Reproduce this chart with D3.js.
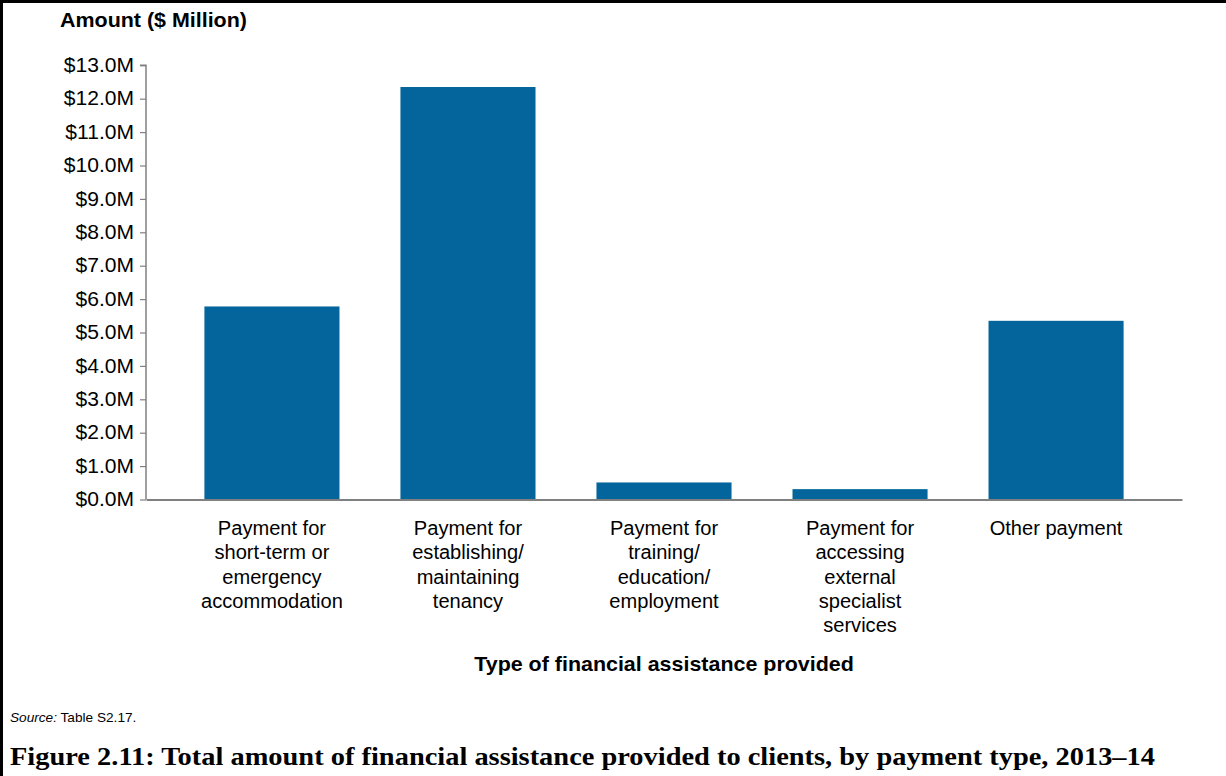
<!DOCTYPE html>
<html>
<head>
<meta charset="utf-8">
<script src="https://cdn.jsdelivr.net/npm/d3@7"></script>
<style>
  html, body { margin: 0; padding: 0; background: #fff; }
  svg { display: block; }
  text { font-family: "Liberation Sans", Arial, sans-serif; fill: #000; }
</style>
</head>
<body>
<svg id="chart" width="1226" height="776"></svg>
<script>
// ---- Data ----
const categories = [
  "Payment for short-term or emergency accommodation",
  "Payment for establishing/ maintaining tenancy",
  "Payment for training/ education/ employment",
  "Payment for accessing external specialist services",
  "Other payment"
];
const categoryLines = [
  ["Payment for", "short-term or", "emergency", "accommodation"],
  ["Payment for", "establishing/", "maintaining", "tenancy"],
  ["Payment for", "training/", "education/", "employment"],
  ["Payment for", "accessing", "external", "specialist", "services"],
  ["Other payment"]
];
const amounts = [5.78, 12.35, 0.51, 0.31, 5.35]; // $ million
const yTicks = [0,1,2,3,4,5,6,7,8,9,10,11,12,13];
const yTitle = "Amount ($ Million)";
const xTitle = "Type of financial assistance provided";
const sourceLabel = "Source:";
const sourceText = " Table S2.17.";
const caption = "Figure 2.11: Total amount of financial assistance provided to clients, by payment type, 2013\u201314";

// ---- Layout ----
const svg = d3.select("#chart");
const plot = { left: 146, right: 1182, top: 65.3, bottom: 499.5 };
const barColor = "#03659b";
const axisColor = "#808080";

// frame
svg.append("path")
  .attr("d", "M1.5,776 L1.5,1.5 L1226,1.5")
  .attr("fill", "none").attr("stroke", "#000").attr("stroke-width", 3);

const x = d3.scaleBand()
  .domain(categories)
  .range([plot.left, plot.right])
  .paddingInner(0.311)
  .paddingOuter(0.298);

const y = d3.scaleLinear()
  .domain([0, 13])
  .range([plot.bottom, plot.top]);

// bars
svg.append("g").selectAll("rect")
  .data(amounts)
  .join("rect")
  .attr("x", (d, i) => x(categories[i]))
  .attr("width", x.bandwidth())
  .attr("y", d => y(d))
  .attr("height", d => y(0) - y(d))
  .attr("fill", barColor);

// y axis
const tickSx = 1.08;
const yAxis = svg.append("g")
  .attr("transform", `translate(${plot.left},0)`)
  .call(d3.axisLeft(y).tickValues(yTicks).tickSize(6).tickPadding(7)
    .tickFormat(d => "$" + d3.format(".1f")(d) + "M"));
yAxis.select(".domain").attr("stroke", axisColor).attr("stroke-width", 1.5)
  .attr("d", `M-6,${plot.top}H0V${plot.bottom}`);
yAxis.selectAll(".tick line").attr("stroke", axisColor).attr("stroke-width", 1.2);
yAxis.selectAll(".tick text")
  .style("font-family", '"Liberation Sans", Arial, sans-serif')
  .style("font-size", "19.5px")
  .attr("fill", "#000")
  .attr("x", -12 / tickSx)
  .attr("transform", `scale(${tickSx},1)`);

// x axis
const xAxis = svg.append("g")
  .attr("transform", `translate(0,${plot.bottom})`)
  .call(d3.axisBottom(x).tickSize(0).tickFormat(""));
xAxis.select(".domain").attr("stroke", axisColor).attr("stroke-width", 2);

// category labels
const lineH = 24.3;
const labelSx = 1.03;
const labelG = svg.append("g");
categories.forEach((c, i) => {
  const cx = x(c) + x.bandwidth() / 2;
  const t = labelG.append("text")
    .attr("transform", `translate(${cx},535) scale(${labelSx},1)`)
    .attr("text-anchor", "middle")
    .style("font-size", "19.5px");
  categoryLines[i].forEach((ln, j) => {
    t.append("tspan").attr("x", 0).attr("y", j * lineH).text(ln);
  });
});

// y title
svg.append("text")
  .attr("transform", `translate(60,27) scale(1.1,1)`)
  .style("font-size", "19.5px").style("font-weight", "bold")
  .text(yTitle);

// x title
svg.append("text")
  .attr("transform", `translate(664,671) scale(1.1,1)`)
  .attr("text-anchor", "middle")
  .style("font-size", "19.5px").style("font-weight", "bold")
  .text(xTitle);

// source
const src = svg.append("text")
  .attr("transform", `translate(10,722) scale(1.05,1)`)
  .style("font-size", "13px");
src.append("tspan").style("font-style", "italic").text(sourceLabel);
src.append("tspan").text(sourceText);

// caption
svg.append("text")
  .attr("x", 10).attr("y", 765)
  .attr("textLength", 1145).attr("lengthAdjust", "spacingAndGlyphs")
  .style("font-family", '"Liberation Serif", "Times New Roman", serif')
  .style("font-size", "25px").style("font-weight", "bold")
  .text(caption);
</script>
</body>
</html>
